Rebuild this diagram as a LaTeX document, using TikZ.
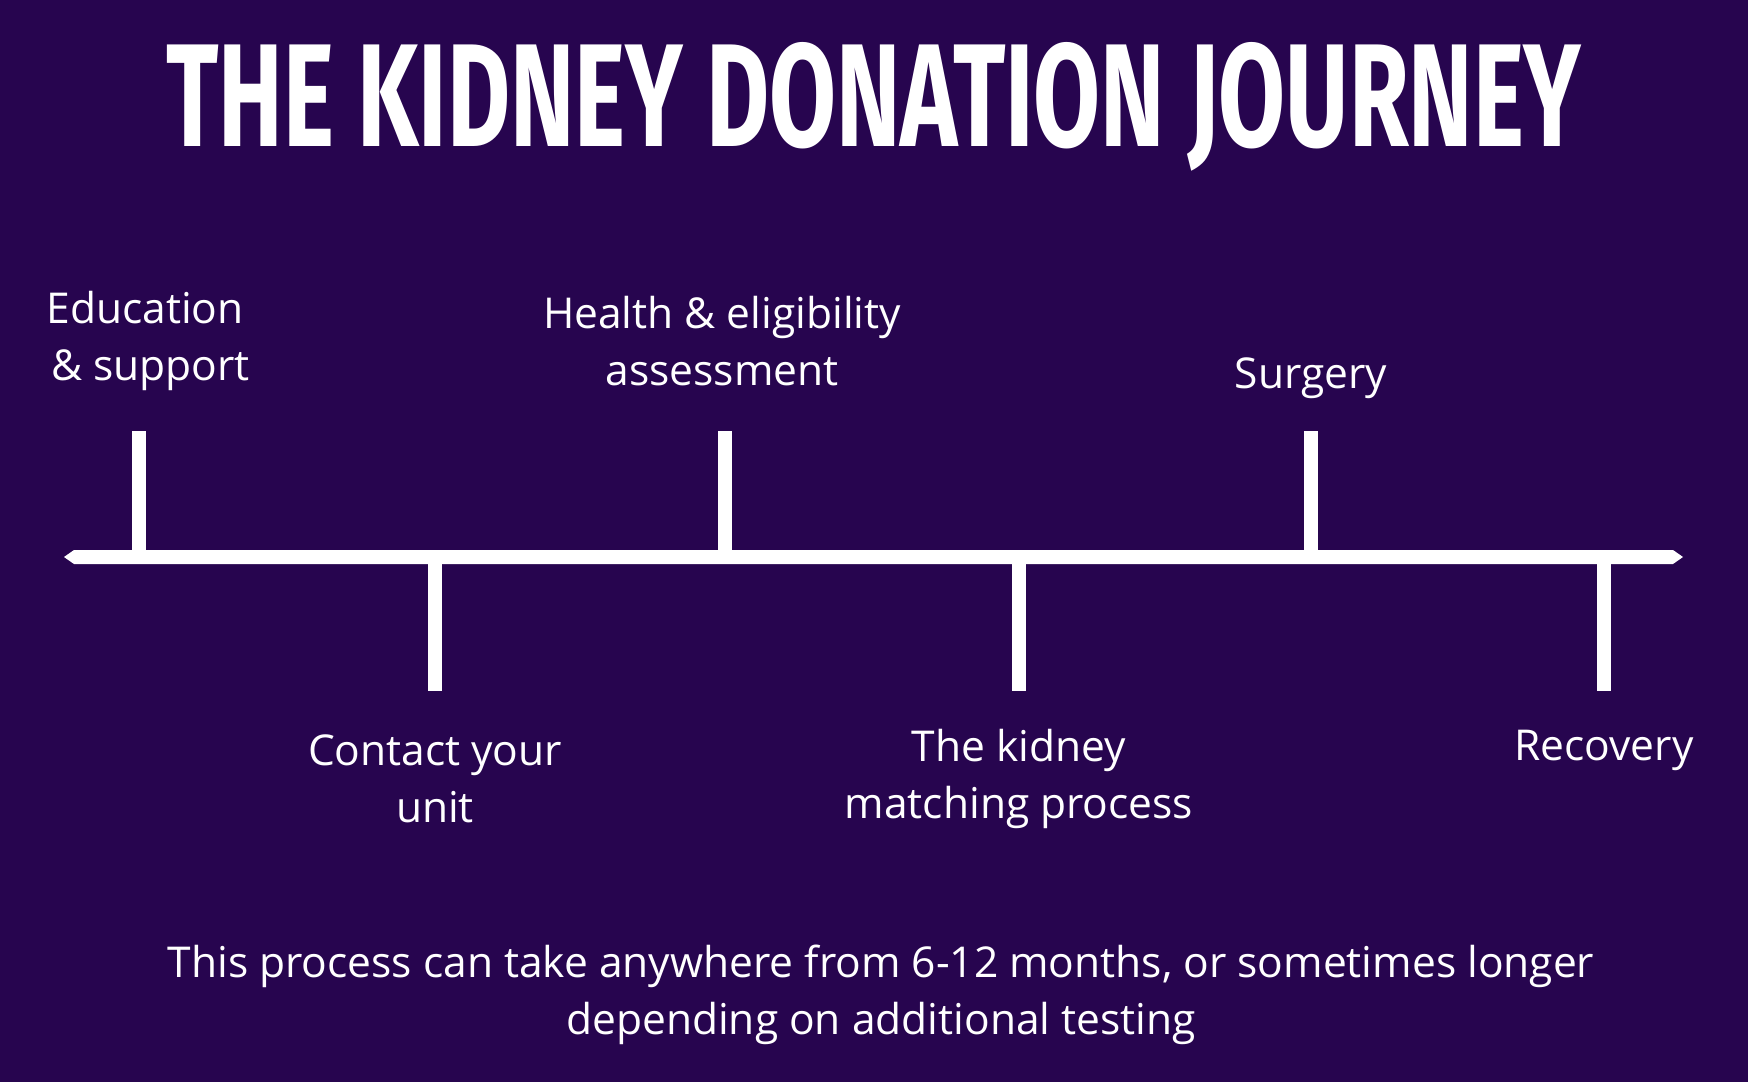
\documentclass[tikz,border=0pt]{standalone}
\usepackage{fontspec}
\setmainfont{Open Sans}
\newfontfamily\titlefont{Fira Sans}
\definecolor{bg}{HTML}{27054F}
\begin{document}
\begin{tikzpicture}[x=1pt,y=-1pt,
  lbl/.style={text=white,font=\fontsize{42.5}{57}\selectfont,align=center,inner sep=0},
  tick/.style={white,line width=14pt}]
\fill[bg] (0,0) rectangle (1748,1082);
\useasboundingbox (0,0) rectangle (1748,1082);
\node[text=white,inner sep=0,anchor=base] (title) at (874,146)
  {\resizebox{1414pt}{104pt}{\titlefont\bfseries THE KIDNEY DONATION JOURNEY}};
\coordinate (L) at (64,557); \coordinate (R) at (1683,557);
\fill[white] (L) -- ++(10,-7) -- (1673,550) -- (R) -- (1673,564) -- (74,564) -- cycle;
\foreach \n/\x in {a/139,c/725,e/1311}{
  \coordinate (\n1) at (\x,431); \coordinate (\n2) at (\x,557);
  \draw[tick] (\n1) -- (\n2);}
\foreach \n/\x in {b/435,d/1019,f/1604}{
  \coordinate (\n1) at (\x,557); \coordinate (\n2) at (\x,691);
  \draw[tick] (\n1) -- (\n2);}
\node[lbl] (ta) at (145,341) {Education\\\ \& support};
\node[lbl] (tc) at (722,341) {Health \& eligibility\\assessment};
\node[lbl] (te) at (1311,378) {Surgery};
\node[lbl] (tb) at (435,779) {Contact your\\unit};
\node[lbl] (td) at (1019,779) {The kidney\\matching process};
\node[lbl] (tf) at (1604,750) {Recovery};
\node[lbl] (foot) at (881,995) {This process can take anywhere from 6-12 months, or sometimes longer\\depending on additional testing};
\end{tikzpicture}
\end{document}
